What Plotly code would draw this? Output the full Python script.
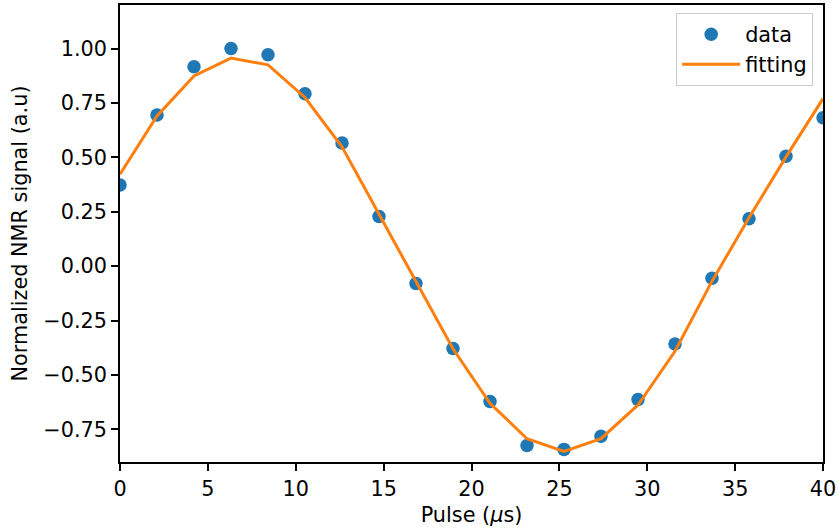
import plotly.graph_objects as go

# Data
pulse_us = [0.0, 2.105, 4.211, 6.316, 8.421, 10.526, 12.632, 14.737, 16.842, 18.947,
            21.053, 23.158, 25.263, 27.368, 29.474, 31.579, 33.684, 35.789, 37.895, 40.0]
signal_data = [0.373, 0.695, 0.916, 1.000, 0.971, 0.792, 0.566, 0.228, -0.080, -0.378,
               -0.622, -0.824, -0.842, -0.782, -0.613, -0.358, -0.056, 0.218, 0.505, 0.682]
signal_fit = [0.422, 0.690, 0.874, 0.956, 0.925, 0.775, 0.548, 0.238, -0.072, -0.380,
              -0.630, -0.793, -0.851, -0.793, -0.638, -0.391, -0.069, 0.222, 0.502, 0.770]
x_ticks = [0, 5, 10, 15, 20, 25, 30, 35, 40]
y_ticks = [-0.75, -0.5, -0.25, 0.0, 0.25, 0.5, 0.75, 1.0]

FONT = "DejaVu Sans"
FS = 20.8

fig = go.Figure()
fig.add_trace(go.Scatter(
    x=pulse_us, y=signal_data, mode="markers", name="data",
    marker=dict(color="#1f77b4", size=13.5, line=dict(width=0)),
))
fig.add_trace(go.Scatter(
    x=pulse_us, y=signal_fit, mode="lines", name="fitting",
    line=dict(color="#ff7f0e", width=3),
))

axis_common = dict(
    showgrid=False, zeroline=False, showline=True, linecolor="black", linewidth=1.6,
    mirror=True, ticks="outside", ticklen=7, tickwidth=1.6, tickcolor="black",
    tickfont=dict(family=FONT, size=FS, color="black"),
)
fig.update_xaxes(
    range=[0, 40], tickvals=x_ticks, ticktext=[str(v) for v in x_ticks],
    title=dict(text="Pulse (<i>μ</i>s)", font=dict(family=FONT, size=FS, color="black"), standoff=8),
    **axis_common,
)
fig.update_yaxes(
    range=[-0.9, 1.2], tickvals=y_ticks, tickformat=".2f",
    title=dict(text="Normalized NMR signal (a.u)", font=dict(family=FONT, size=FS, color="black"), standoff=10),
    **axis_common,
)
fig.update_layout(
    width=838, height=532,
    margin=dict(l=120, r=15, t=5, b=70, autoexpand=False),
    plot_bgcolor="white", paper_bgcolor="white",
    font=dict(family=FONT, size=FS, color="black"),
    legend=dict(
        x=0.986, y=0.982, xanchor="right", yanchor="top",
        bgcolor="rgba(255,255,255,0.8)", bordercolor="#cccccc", borderwidth=1,
        font=dict(family=FONT, size=FS, color="black"),
        itemwidth=58, tracegroupgap=0,
    ),
    showlegend=True,
)

fig.write_html("out.html", config={"displayModeBar": False},
               post_script="document.body.style.margin='0';")
